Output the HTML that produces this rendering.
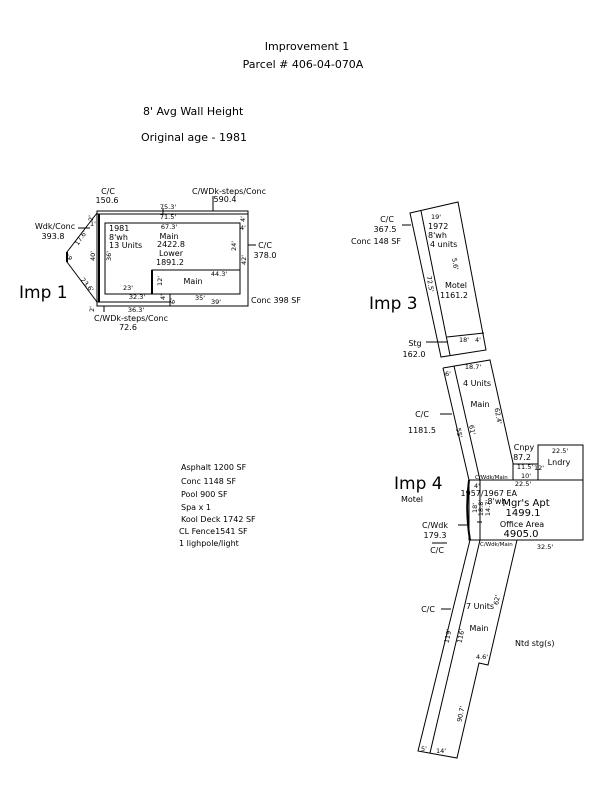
<!DOCTYPE html>
<html><head><style>
body{margin:0;background:#fff}
svg text{font-family:"DejaVu Sans","Liberation Sans",sans-serif;fill:#000}
</style></head><body>
<svg width="600" height="800" viewBox="0 0 600 800" xmlns="http://www.w3.org/2000/svg">
<g font-size="11" text-anchor="middle">
<text x="307" y="50">Improvement 1</text>
<text x="303" y="68">Parcel # 406-04-070A</text>
</g>
<text x="143" y="115" font-size="11">8' Avg Wall Height</text>
<text x="141" y="141" font-size="11">Original age - 1981</text>

<g fill="none" stroke="#000" stroke-width="1">
<rect x="97" y="211" width="151" height="95"/>
<line x1="97" y1="214" x2="248" y2="214"/>
<line x1="99" y1="214" x2="99" y2="302" stroke-width="2"/>
<rect x="105" y="223" width="135" height="71"/>
<rect x="152" y="270" width="88" height="24"/>
<line x1="152" y1="270" x2="152" y2="294" stroke-width="2"/>
<line x1="97" y1="302" x2="170" y2="302"/>
<line x1="170" y1="294" x2="170" y2="306"/>
<polyline points="97,213 67,252 67,262 97,302"/>
<line x1="67" y1="252" x2="67" y2="262" stroke-width="2"/>
<line x1="163" y1="208" x2="163" y2="214"/>
<line x1="78" y1="228" x2="90" y2="228"/>
<line x1="248" y1="245" x2="256" y2="245"/>
<line x1="104" y1="306" x2="104" y2="312"/>
<line x1="213" y1="196" x2="213" y2="211"/>
<polygon points="410,213 458,202 486,350 441,357"/>
<line x1="421" y1="211" x2="450" y2="355"/>
<line x1="447" y1="337" x2="484" y2="333"/>
<line x1="402" y1="225" x2="411" y2="225"/>
<line x1="426" y1="342" x2="448" y2="342"/>
<polyline points="443,368 490,360 513,463 513,480"/>
<line x1="443" y1="368" x2="469" y2="480"/>
<line x1="454" y1="366" x2="480" y2="480"/>
<line x1="440" y1="414" x2="452" y2="414"/>
<rect x="469" y="480" width="114" height="60"/>
<line x1="480" y1="480" x2="480" y2="540"/>
<path d="M469,480 Q465,510 470,540" stroke-width="2"/>
<rect x="538" y="445" width="45" height="35"/>
<rect x="513" y="464" width="25" height="16"/>
<line x1="477" y1="522" x2="482" y2="522"/>
<line x1="458" y1="525" x2="467" y2="525"/>
<line x1="432" y1="543" x2="447" y2="543"/>
<polyline points="470,540 418,751 457,758 479,663 488,665 517,540"/>
<line x1="480" y1="540" x2="430" y2="753"/>
<line x1="441" y1="609" x2="451" y2="609"/>
</g>

<g font-size="6.5" text-anchor="middle">
<text x="168" y="209">75.3'</text>
<text x="168" y="219">71.5'</text>
<text x="169" y="229">67.3'</text>
<text x="219" y="276">44.3'</text>
<text x="128" y="290">23'</text>
<text x="137" y="299">32.3'</text>
<text x="136" y="312">36.3'</text>
<text x="200" y="300">35'</text>
<text x="216" y="304">39'</text>
<text x="160" y="283" transform="rotate(-90 160 281)">12'</text>
<text x="91" y="220" transform="rotate(-90 91 218)">2'</text>
<text x="92" y="311" transform="rotate(-90 92 309)">2'</text>
<text x="93" y="226">1'</text>
<text x="93" y="258" transform="rotate(-90 93 256)">40'</text>
<text x="109" y="258" transform="rotate(-90 109 256)">36'</text>
<text x="70" y="259" transform="rotate(-90 70 257)">6'</text>
<text x="81" y="240" transform="rotate(-55 81 238)">17.6'</text>
<text x="87" y="287" transform="rotate(50 87 285)">23.6'</text>
<text x="243" y="221" transform="rotate(-90 243 219)">4'</text>
<text x="243" y="230">4'</text>
<text x="234" y="248" transform="rotate(-90 234 246)">24'</text>
<text x="244" y="262" transform="rotate(-90 244 260)">42'</text>
<text x="163" y="299" transform="rotate(-90 163 297)">4'</text>
<text x="173" y="303" transform="rotate(-90 173 301)">6'</text>
<text x="436" y="219">19'</text>
<text x="455" y="266" transform="rotate(80 455 264)">5.6'</text>
<text x="430" y="286" transform="rotate(80 430 284)">72.5'</text>
<text x="464" y="342">18'</text>
<text x="478" y="342">4'</text>
<text x="448" y="376">6'</text>
<text x="473" y="369">18.7'</text>
<text x="498" y="418" transform="rotate(80 498 416)">62.4'</text>
<text x="459" y="435" transform="rotate(80 459 433)">55'</text>
<text x="472" y="432" transform="rotate(80 472 430)">61'</text>
<text x="560" y="453">22.5'</text>
<text x="525" y="469">11.5'</text>
<text x="539" y="470">12'</text>
<text x="526" y="478">10'</text>
<text x="523" y="486">22.5'</text>
<text x="477" y="488">4'</text>
<text x="545" y="549">32.5'</text>
<text x="475" y="510" transform="rotate(-90 475 508)">18'</text>
<text x="481" y="510" transform="rotate(-90 481 508)">18.8'</text>
<text x="488" y="510" transform="rotate(-90 488 508)">14.7'</text>
<text x="497" y="602" transform="rotate(-80 497 600)">62'</text>
<text x="448" y="638" transform="rotate(-78 448 636)">119'</text>
<text x="461" y="638" transform="rotate(-78 461 636)">116'</text>
<text x="482" y="659">4.6'</text>
<text x="461" y="716" transform="rotate(-78 461 714)">90.7'</text>
<text x="424" y="751">5'</text>
<text x="441" y="753">14'</text>
</g>

<g font-size="8">
<text x="109" y="231">1981</text>
<text x="109" y="240">8'wh</text>
<text x="109" y="248">13 Units</text>
<text x="169" y="239" text-anchor="middle">Main</text>
<text x="171" y="247" text-anchor="middle">2422.8</text>
<text x="171" y="256" text-anchor="middle">Lower</text>
<text x="170" y="265" text-anchor="middle">1891.2</text>
<text x="193" y="284" text-anchor="middle">Main</text>
<text x="108" y="194" text-anchor="middle">C/C</text>
<text x="107" y="203" text-anchor="middle">150.6</text>
<text x="229" y="194" text-anchor="middle">C/WDk-steps/Conc</text>
<text x="225" y="202" text-anchor="middle">590.4</text>
<text x="55" y="229" text-anchor="middle">Wdk/Conc</text>
<text x="53" y="239" text-anchor="middle">393.8</text>
<text x="265" y="248" text-anchor="middle">C/C</text>
<text x="265" y="258" text-anchor="middle">378.0</text>
<text x="251" y="303">Conc 398 SF</text>
<text x="131" y="321" text-anchor="middle">C/WDk-steps/Conc</text>
<text x="128" y="330" text-anchor="middle">72.6</text>
<text x="387" y="222" text-anchor="middle">C/C</text>
<text x="385" y="232" text-anchor="middle">367.5</text>
<text x="351" y="244">Conc 148 SF</text>
<text x="428" y="229">1972</text>
<text x="428" y="238">8'wh</text>
<text x="430" y="247">4 units</text>
<text x="456" y="288" text-anchor="middle">Motel</text>
<text x="454" y="298" text-anchor="middle">1161.2</text>
<text x="415" y="346" text-anchor="middle">Stg</text>
<text x="414" y="357" text-anchor="middle">162.0</text>
<text x="463" y="386">4 Units</text>
<text x="480" y="407" text-anchor="middle">Main</text>
<text x="422" y="417" text-anchor="middle">C/C</text>
<text x="422" y="433" text-anchor="middle">1181.5</text>
<text x="524" y="450" text-anchor="middle">Cnpy</text>
<text x="522" y="460" text-anchor="middle">87.2</text>
<text x="559" y="465" text-anchor="middle">Lndry</text>
<text x="517" y="496" text-anchor="end">1957/1967 EA</text>
<text x="497" y="504" text-anchor="middle">8'wh</text>
<text x="526" y="506" text-anchor="middle" font-size="10">Mgr's Apt</text>
<text x="523" y="516" text-anchor="middle" font-size="10">1499.1</text>
<text x="522" y="527" text-anchor="middle">Office Area</text>
<text x="521" y="537" text-anchor="middle" font-size="10">4905.0</text>
<text x="475" y="479" font-size="5.5">C/Wdk/Main</text>
<text x="480" y="546" font-size="5.5">C/Wdk/Main</text>
<text x="412" y="502" text-anchor="middle">Motel</text>
<text x="435" y="528" text-anchor="middle">C/Wdk</text>
<text x="435" y="538" text-anchor="middle">179.3</text>
<text x="437" y="553" text-anchor="middle">C/C</text>
<text x="428" y="612" text-anchor="middle">C/C</text>
<text x="466" y="609">7 Units</text>
<text x="479" y="631" text-anchor="middle">Main</text>
<text x="515" y="646">Ntd stg(s)</text>
<text x="181" y="470">Asphalt 1200 SF</text>
<text x="181" y="484">Conc 1148 SF</text>
<text x="181" y="497">Pool 900 SF</text>
<text x="181" y="510">Spa x 1</text>
<text x="181" y="522">Kool Deck 1742 SF</text>
<text x="179" y="534">CL Fence1541 SF</text>
<text x="179" y="546">1 lighpole/light</text>
</g>

<g font-size="17" font-family="Liberation Sans">
<text x="19" y="298">Imp 1</text>
<text x="369" y="309">Imp 3</text>
<text x="394" y="489">Imp 4</text>
</g>
</svg>
</body></html>
